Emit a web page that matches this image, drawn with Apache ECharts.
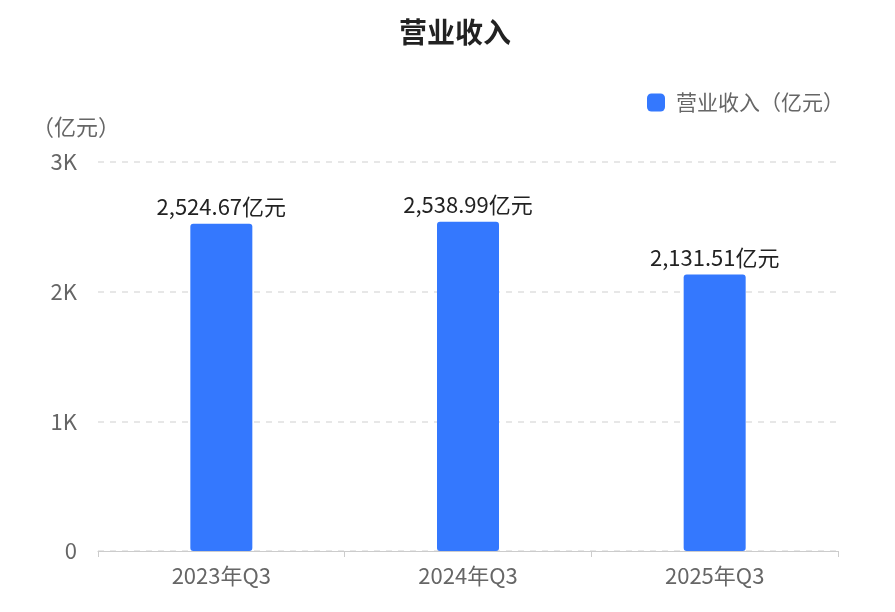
<!DOCTYPE html>
<html><head><meta charset="utf-8">
<script src="https://cdn.jsdelivr.net/npm/echarts@6/dist/echarts.min.js"></script>
<style>html,body{margin:0;padding:0;background:#fff}#c{width:895px;height:612px}</style>
</head><body><div id="c"></div>
<script>
const categories = ['2023年Q3', '2024年Q3', '2025年Q3'];
const revenue = [2524.67, 2538.99, 2131.51];
const seriesName = '营业收入（亿元）';
const yTicks = [0, 1000, 2000, 3000];

const font = '"Noto Sans CJK SC", "Noto Sans", sans-serif';
const chart = echarts.init(document.getElementById('c'));
chart.setOption({
  animation: false,
  textStyle: { fontFamily: font },
  title: {
    text: '营业收入', left: 394, top: 13,
    textStyle: { fontSize: 28, fontWeight: 'bold', color: '#222', fontFamily: font }
  },
  legend: {
    right: 46, top: 87, itemWidth: 18, itemHeight: 18, itemGap: 11,
    icon: 'roundRect',
    textStyle: { fontSize: 21, color: '#666', fontFamily: font, padding: [0, 0, 0, 6] },
    data: [seriesName]
  },
  grid: { left: 98, right: 57, top: 162, bottom: 61, containLabel: false },
  xAxis: {
    type: 'category', data: categories,
    axisLine: { lineStyle: { color: '#ccc' } },
    axisTick: { show: true, alignWithLabel: false, length: 6, lineStyle: { color: '#ccc' } },
    axisLabel: { fontSize: 22, color: '#666', margin: 14, fontFamily: font }
  },
  yAxis: {
    type: 'value', min: yTicks[0], max: yTicks[yTicks.length - 1], interval: 1000,
    name: '（亿元）', nameLocation: 'end', nameGap: 24,
    nameTextStyle: { fontSize: 22, color: '#666', align: 'right', padding: [0, -22, 0, 0], fontFamily: font },
    axisLabel: {
      fontSize: 22, color: '#666', margin: 21, fontFamily: font,
      formatter: v => v === 0 ? '0' : (v / 1000) + 'K'
    },
    splitLine: { lineStyle: { type: [6, 6], color: '#e0e0e0', width: 1.5 } },
    axisLine: { show: false }, axisTick: { show: false }
  },
  series: [{
    name: seriesName, type: 'bar', data: revenue, barWidth: 62,
    itemStyle: { color: '#3478fe', borderRadius: [3, 3, 3, 3] },
    label: {
      show: true, position: 'top', distance: 6, fontSize: 22, color: '#222', fontFamily: font,
      formatter: p => p.value.toLocaleString('en-US', { minimumFractionDigits: 2, maximumFractionDigits: 2 }) + '亿元'
    }
  }]
});
</script></body></html>
